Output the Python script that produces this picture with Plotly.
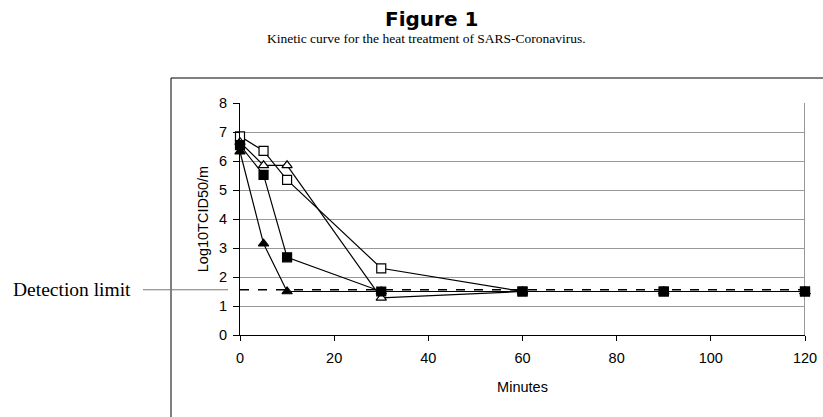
import plotly.graph_objects as go

minutes = [0, 5, 10, 30, 60, 90, 120]
open_square = [6.85, 6.35, 5.35, 2.3, 1.5, 1.5, 1.5]
open_triangle = [6.65, 5.85, 5.85, 1.28, 1.5, 1.5, 1.5]
filled_square = [6.55, 5.52, 2.68, 1.5, 1.5, 1.5, 1.5]
filled_triangle = [6.32, 3.15, 1.5, 1.5, 1.5, 1.5, 1.5]
detection_limit = 1.56
y_ticks = [0, 1, 2, 3, 4, 5, 6, 7, 8]
x_ticks = [0, 20, 40, 60, 80, 100, 120]

# body margin is removed by post_script, so page pixels == figure pixels
W, H = 823, 417
PL, PR, PT, PB = 240, 805, 103, 335  # plot area in page pixels
L = PL
R = W - PR
T = PT
B = H - PB
pw = PR - PL
ph = PB - PT


def px(xpage):
    return (xpage - PL) / pw


def py(ypage):
    return 1 - (ypage - PT) / ph


fig = go.Figure()

# detection limit dashed line
fig.add_trace(go.Scatter(x=[minutes[0], minutes[-1]], y=[detection_limit] * 2, mode="lines",
                         line=dict(color="black", width=1.5, dash="dash"), showlegend=False,
                         hoverinfo="skip", cliponaxis=False))

series = [
    (open_square, "square", "white"),
    (open_triangle, "triangle-up", "white"),
    (filled_square, "square", "black"),
    (filled_triangle, "triangle-up", "black"),
]
for vals, sym, fill in series:
    fig.add_trace(go.Scatter(
        x=minutes, y=vals, mode="lines+markers",
        line=dict(color="black", width=1.2),
        marker=dict(symbol=sym, size=9, color=fill, line=dict(color="black", width=1.2)),
        cliponaxis=False, showlegend=False))

# arrow marker at detection limit
fig.add_trace(go.Scatter(x=[-2.4], y=[detection_limit], mode="markers",
                         marker=dict(symbol="triangle-right", size=11, color="black"),
                         cliponaxis=False, showlegend=False, hoverinfo="skip"))

fig.update_layout(
    width=W, height=H,
    margin=dict(l=L, r=R, t=T, b=B, autoexpand=False),
    paper_bgcolor="white", plot_bgcolor="white",
    font=dict(family="Liberation Sans, Arial", color="black"),
    xaxis=dict(range=[0, 120], tickvals=x_ticks, showgrid=False, showline=True,
               linecolor="black", linewidth=1, ticks="outside", ticklen=5, tickcolor="black",
               tickfont=dict(size=14.5), zeroline=False, ticklabelstandoff=5,
               title=dict(text="Minutes", font=dict(size=14.5), standoff=16)),
    yaxis=dict(range=[0, 8], tickvals=y_ticks, showgrid=True, gridcolor="#999999", gridwidth=1,
               showline=True, linecolor="black", linewidth=1, ticks="outside", ticklen=6,
               tickcolor="black", tickfont=dict(size=14.5), zeroline=False, ticklabelstandoff=3,
               title=dict(text="Log10TCID50/m", font=dict(size=14.5), standoff=6)),
    shapes=[
        # outer box
        dict(type="rect", xref="paper", yref="paper", x0=px(171), x1=px(850), y0=py(450), y1=py(78),
             line=dict(color="black", width=1), fillcolor="rgba(0,0,0,0)", layer="below"),
        # right plot border
        dict(type="line", xref="x", yref="y", x0=120, x1=120, y0=0, y1=8,
             line=dict(color="#999999", width=2), layer="below"),
        # detection limit pointer line
        dict(type="line", xref="paper", yref="y", x0=px(143), x1=px(228), y0=detection_limit,
             y1=detection_limit, line=dict(color="#777777", width=1)),
    ],
    annotations=[
        dict(text="<b>Figure 1</b>", xref="paper", yref="paper", x=px(431), y=py(18.5),
             xanchor="center", yanchor="middle", showarrow=False,
             font=dict(family="DejaVu Sans, Liberation Sans", size=20)),
        dict(text="Kinetic curve for the heat treatment of SARS-Coronavirus.", xref="paper",
             yref="paper", x=px(426), y=py(39), xanchor="center", yanchor="middle",
             showarrow=False, font=dict(family="Liberation Serif, DejaVu Serif", size=13.5)),
        dict(text="Detection limit", xref="paper", yref="y", x=px(133), y=detection_limit,
             xanchor="right", yanchor="middle", showarrow=False,
             font=dict(family="Liberation Serif, DejaVu Serif", size=19.5)),
    ],
)

fig.write_html("out.html",
               config={"displayModeBar": False},
               post_script="document.body.style.margin='0';document.body.style.overflow='hidden';")
